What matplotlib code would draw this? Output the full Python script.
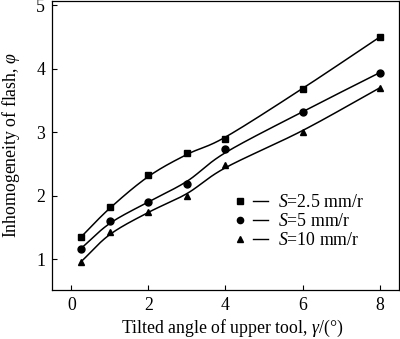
import numpy as np
import matplotlib
matplotlib.use("Agg")
import matplotlib.pyplot as plt
from matplotlib.legend_handler import HandlerLine2D
from matplotlib.lines import Line2D

x = [0.25, 1, 2, 3, 4, 6, 8]
s25 = [1.35, 1.82, 2.33, 2.67, 2.89, 3.69, 4.50]
s5 = [1.17, 1.60, 1.91, 2.19, 2.73, 3.32, 3.94]
s10 = [0.96, 1.43, 1.75, 2.00, 2.49, 3.00, 3.70]
labels = ["$S$=2.5 mm/r", "$S$=5 mm/r", "$S$=10 mm/r"]
markers = ["s", "o", "^"]

plt.rcParams['font.family'] = ['Liberation Serif', 'DejaVu Serif']
plt.rcParams['mathtext.fontset'] = 'custom'
plt.rcParams['mathtext.rm'] = 'Liberation Serif'
plt.rcParams['mathtext.it'] = 'Liberation Serif:italic'

FS = 12.8


def smooth(xs, ys, w=0.3, n=30):
    """Lightly smoothed Catmull-Rom curve through the data."""
    xs = np.asarray(xs, float)
    ys = np.asarray(ys, float).copy()
    sm = ys.copy()
    for i in range(1, len(xs) - 1):
        f = (xs[i] - xs[i - 1]) / (xs[i + 1] - xs[i - 1])
        lin = ys[i - 1] + f * (ys[i + 1] - ys[i - 1])
        sm[i] = (1 - w) * ys[i] + w * lin
    px = np.concatenate([[2 * xs[0] - xs[1]], xs, [2 * xs[-1] - xs[-2]]])
    py = np.concatenate([[2 * sm[0] - sm[1]], sm, [2 * sm[-1] - sm[-2]]])
    ox, oy = [], []
    t = np.linspace(0, 1, n, endpoint=False)
    for i in range(1, len(px) - 2):
        for arr, out in ((px, ox), (py, oy)):
            p0, p1, p2, p3 = arr[i - 1], arr[i], arr[i + 1], arr[i + 2]
            out.extend(0.5 * ((2 * p1) + (-p0 + p2) * t
                              + (2 * p0 - 5 * p1 + 4 * p2 - p3) * t ** 2
                              + (-p0 + 3 * p1 - 3 * p2 + p3) * t ** 3))
    ox.append(xs[-1]); oy.append(sm[-1])
    return np.array(ox), np.array(oy)


fig = plt.figure(figsize=(4.0, 3.39), dpi=100)
ax = fig.add_axes([0.13, 0.1445, 0.8675, 0.854])

handles = []
for ys, m, lab in zip([s25, s5, s10], markers, labels):
    cx, cy = smooth(x, ys)
    ax.plot(cx, cy, color='black', lw=1.1)
    ax.plot(x, ys, linestyle='none', marker=m, color='black', markersize=5)
    h, = ax.plot([], [], color='black', lw=1.1, marker=m, markersize=5)
    handles.append(h)


class MarkerThenLine(HandlerLine2D):
    def create_artists(self, legend, orig_handle, xdescent, ydescent, width, height, fontsize, trans):
        yc = height / 2 - ydescent
        mk = Line2D([0.12 * width], [yc], marker=orig_handle.get_marker(), color='black',
                    markersize=4.5, linestyle='none', transform=trans)
        ln = Line2D([0.52 * width, width], [yc, yc], color='black', lw=1.0, transform=trans)
        return [mk, ln]


ax.legend(handles, labels, loc='upper left', bbox_to_anchor=(0.53, 0.33),
          frameon=False, fontsize=FS, handler_map={Line2D: MarkerThenLine()},
          handlelength=1.8, handletextpad=0.56, labelspacing=0.1, borderpad=0,
          borderaxespad=0)

ax.set_xlim(-0.5, 8.5)
ax.set_ylim(0.517, 5.076)
ax.set_xticks([0, 2, 4, 6, 8])
ax.set_yticks([1, 2, 3, 4, 5])
ax.tick_params(direction='in', length=3.5, width=0.8, labelsize=FS, pad=5)
ax.set_xlabel(r"Tilted angle of upper tool, $\gamma$/(°)", fontsize=FS, labelpad=3)
ax.xaxis.set_label_coords(0.52, -0.095)
ax.set_ylabel(r"Inhomogeneity of flash, $\varphi$", fontsize=FS, labelpad=10)
for sp in ax.spines.values():
    sp.set_linewidth(0.9)

fig.savefig("out.png", dpi=100)
